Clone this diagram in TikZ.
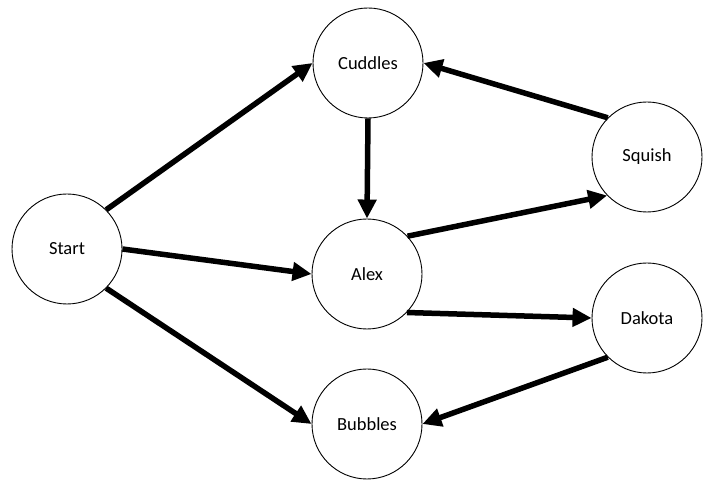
\documentclass[tikz,border=0pt]{standalone}
\usepackage{fontspec}
\setmainfont{Carlito}
\usetikzlibrary{arrows.meta}
\begin{document}
\begin{tikzpicture}[x=1pt,y=1pt,
  petnode/.style={circle,draw=black,line width=0.9pt,fill=white,
    minimum size=110pt,inner sep=0pt,font=\fontsize{18.5}{21}\selectfont},
  flow/.style={line width=5.5pt,-{Triangle[length=19pt,width=18pt]}}]
  \useasboundingbox (0,0) rectangle (714,492);
  % the six nodes
  \node[petnode] (start)   at (67,243)  {Start};
  \node[petnode] (cuddles) at (368,429) {Cuddles};
  \node[petnode] (alex)    at (367,218) {Alex};
  \node[petnode] (bubbles) at (367,68)  {Bubbles};
  \node[petnode] (squish)  at (647,335) {Squish};
  \node[petnode] (dakota)  at (647,174) {Dakota};
  % connections
  \draw[flow] (start.45)   -- (cuddles.west);
  \draw[flow] (start.east) -- (alex.west);
  \draw[flow] (start.-45)  -- (bubbles.west);
  \draw[flow] (cuddles.south) -- (alex.north);
  \draw[flow] (alex.43)  -- (squish.224);
  \draw[flow] (alex.-44) -- (dakota.west);
  \draw[flow] (squish.135) -- (cuddles.east);
  \draw[flow] (dakota.225) -- (bubbles.east);
\end{tikzpicture}
\end{document}
